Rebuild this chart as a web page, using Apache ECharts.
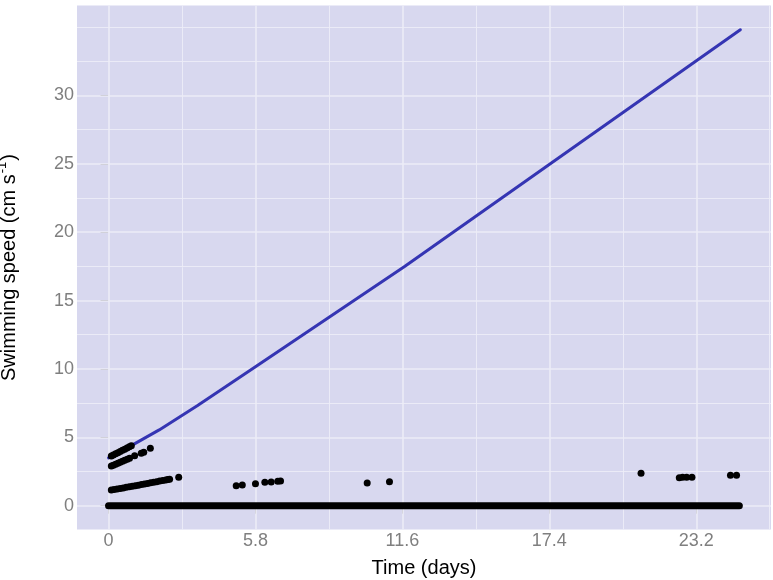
<!DOCTYPE html>
<html>
<head>
<meta charset="utf-8">
<script src="https://cdn.jsdelivr.net/npm/echarts@6/dist/echarts.min.js"></script>
<style>html,body{margin:0;padding:0;background:#fff;}#c{width:773px;height:580px;}</style>
</head>
<body>
<div id="c"></div>
<script>
// ---- data ----
const xTicks = [0, 5.8, 11.6, 17.4, 23.2];
const xMinor = [2.9, 8.7, 14.5, 20.3, 26.1];
const yTicks = [0, 5, 10, 15, 20, 25, 30];
const yMinor = [2.5, 7.5, 12.5, 17.5, 22.5, 27.5, 32.5, 35];

// continuous run of zero-speed observations (start and end time, days)
const zeroRun = [[0, 0], [24.9, 0]];

// upper run of points
const upperRun = [[0.11,3.64],[0.19,3.71],[0.28,3.79],[0.37,3.88],[0.46,3.96],[0.55,4.05],[0.64,4.13],[0.73,4.22],[0.82,4.31],[0.9,4.39]];
// middle run of points
const middleRun = [[0.11,2.90],[0.19,2.96],[0.28,3.03],[0.37,3.1],[0.46,3.18],[0.55,3.25],[0.64,3.32],[0.74,3.4],[0.83,3.47],[1.03,3.66],[1.29,3.83],[1.39,3.91],[1.65,4.2]];
// lower run of points
const lowerRun = [[0.11,1.15],[0.22,1.19],[0.34,1.22],[0.46,1.26],[0.58,1.3],[0.7,1.34],[0.82,1.38],[0.94,1.42],[1.06,1.46],[1.18,1.5],[1.3,1.55],[1.42,1.59],[1.54,1.63],[1.66,1.67],[1.78,1.71],[1.9,1.75],[2.02,1.8],[2.14,1.84],[2.26,1.88],[2.34,1.91],[2.41,1.93],[2.77,2.08]];
// scattered later points
const latePoints = [[5.04,1.46],[5.28,1.51],[5.80,1.61],[6.17,1.71],[6.42,1.73],[6.68,1.78],[6.79,1.81],[10.21,1.66],[11.09,1.76],[21.02,2.37],[22.53,2.05],[22.66,2.08],[22.82,2.08],[23.03,2.08],[24.55,2.22],[24.79,2.22]];

// fitted curve
const fitX = [0, 0.9, 2.0, 3.5, 5.8, 11.7, 24.94];
const fitY = [3.5, 4.39, 5.54, 7.3, 10.15, 17.5, 34.8];

// ---- chart ----
const FONT = '"Liberation Sans", Arial, Helvetica, sans-serif';
const GRID = '#EDEDF7';
const chart = echarts.init(document.getElementById('c'), null, {renderer: 'canvas'});

const gridLines = [].concat(
  xTicks.map(v => ({xAxis: v, lineStyle: {width: 1.6}})),
  xMinor.map(v => ({xAxis: v, lineStyle: {width: 0.9}})),
  yTicks.map(v => ({yAxis: v, lineStyle: {width: 1.6}})),
  yMinor.map(v => ({yAxis: v, lineStyle: {width: 0.9}}))
);

const dotStyle = {color: '#000', opacity: 1};
function dots(name, arr) {
  return {name, type: 'scatter', data: arr, symbolSize: 7, itemStyle: dotStyle, z: 4, silent: true};
}

chart.setOption({
  animation: false,
  backgroundColor: '#fff',
  grid: {left: 77, right: 2, top: 5.5, bottom: 50.5, show: true, backgroundColor: '#D8D8EF', borderWidth: 0,
         containLabel: false, outerBoundsMode: 'none'},
  xAxis: {
    type: 'value', min: -1.245, max: 26.15,
    name: 'Time (days)', nameLocation: 'middle', nameGap: 29,
    nameTextStyle: {fontFamily: FONT, fontSize: 20, color: '#000'},
    axisLine: {show: false},
    axisTick: {show: true, length: 8, lineStyle: {color: '#7F7F7F', width: 1}, customValues: xTicks},
    axisLabel: {show: true, customValues: xTicks, margin: 3, fontFamily: FONT, fontSize: 18, color: '#7F7F7F', formatter: v => String(v)},
    splitLine: {show: false}, minorSplitLine: {show: false}
  },
  yAxis: {
    type: 'value', min: -1.74, max: 36.57,
    name: '{a|Swimming speed (cm s}{b|-1}{a|)}', nameLocation: 'middle', nameGap: 58, nameRotate: 90,
    nameTextStyle: {
      fontFamily: FONT, fontSize: 20, color: '#000',
      rich: {
        a: {fontFamily: FONT, fontSize: 20, color: '#000', lineHeight: 24, verticalAlign: 'bottom'},
        b: {fontFamily: FONT, fontSize: 13, color: '#000', lineHeight: 24, verticalAlign: 'top', padding: [1, 1, 0, 1]}
      }
    },
    axisLine: {show: false},
    axisTick: {show: true, length: 8, lineStyle: {color: '#7F7F7F', width: 1}, customValues: yTicks},
    axisLabel: {show: true, customValues: yTicks, margin: 3, fontFamily: FONT, fontSize: 18, color: '#7F7F7F'},
    splitLine: {show: false}, minorSplitLine: {show: false}
  },
  series: [
    {
      name: 'grid', type: 'line', data: [], z: 1, silent: true,
      markLine: {z: 1, silent: true, symbol: ['none', 'none'], label: {show: false}, animation: false,
        lineStyle: {color: GRID, type: 'solid'}, emphasis: {disabled: true}, data: gridLines}
    },
    {
      name: 'zero', type: 'line', data: zeroRun, symbol: 'none', z: 3, silent: true,
      lineStyle: {color: '#000', width: 7, cap: 'round'}
    },
    dots('upper', upperRun),
    dots('middle', middleRun),
    dots('lower', lowerRun),
    dots('late', latePoints),
    {
      name: 'fit', type: 'line', data: fitX.map((x, i) => [x, fitY[i]]), symbol: 'none', z: 3, silent: true,
      lineStyle: {color: '#3535B3', width: 3, cap: 'round', join: 'round'}
    }
  ]
});
</script>
</body>
</html>
